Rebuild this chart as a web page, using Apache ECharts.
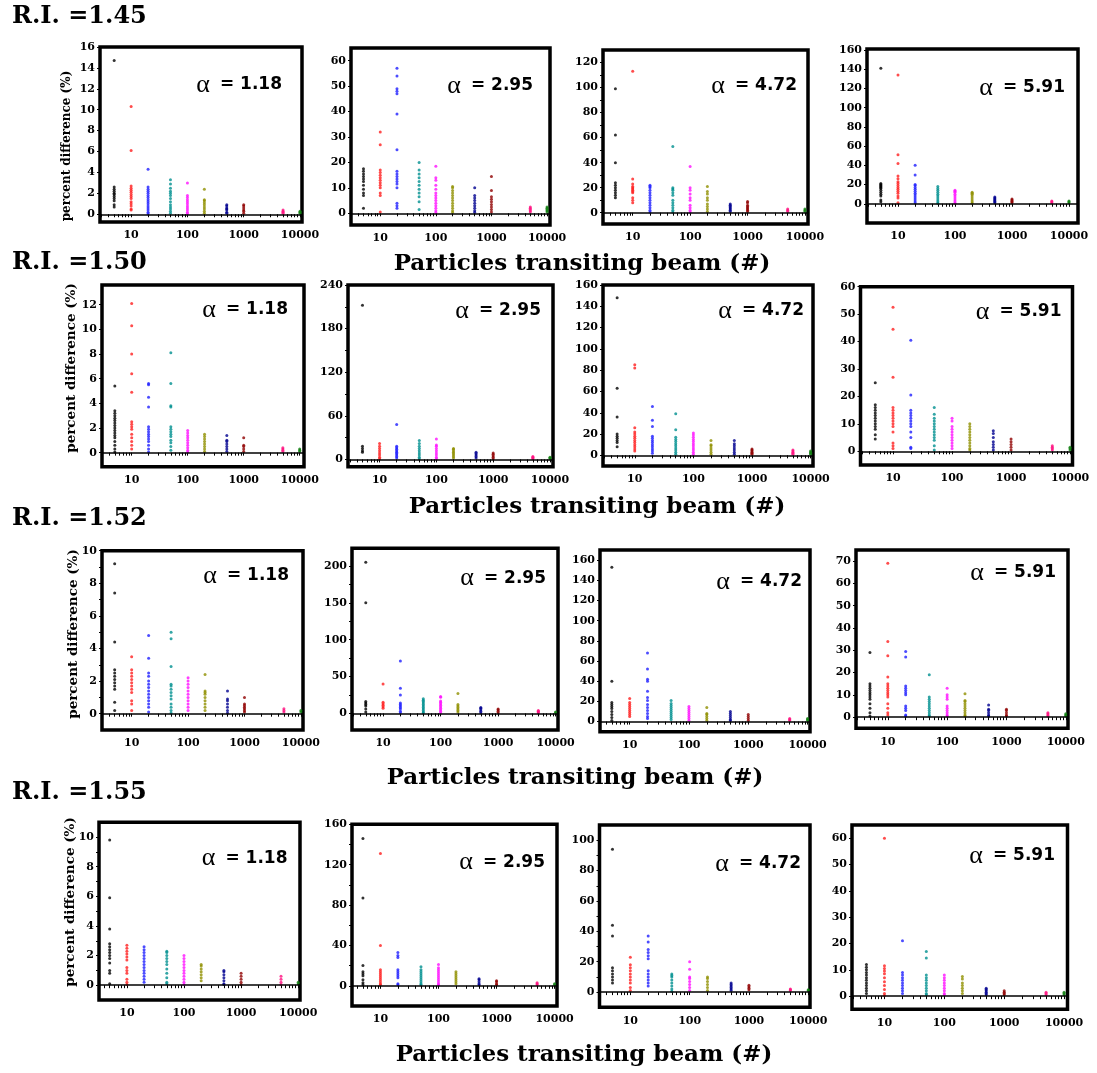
<!DOCTYPE html>
<html><head><meta charset="utf-8">
<script src="https://cdn.jsdelivr.net/npm/echarts@6/dist/echarts.min.js"></script>
<style>html,body{margin:0;padding:0;background:#fff}#c{width:1097px;height:1073px}</style>
</head><body><div id="c"></div>
<script>
// ---------- data ----------
const xCats = [5, 10, 20, 50, 100, 200, 500, 1000, 5000, 10000];
const riLabels = ['R.I. =1.45', 'R.I. =1.50', 'R.I. =1.52', 'R.I. =1.55'];
const alphaLabels = ['1.18', '2.95', '4.72', '5.91'];
const xTitle = 'Particles transiting beam (#)';
const yTitle = 'percent difference (%)';
const xLabelValues = [10, 100, 1000, 10000];
const xTickValues = [3,4,5,6,7,8,9,10,20,30,40,50,60,70,80,90,100,200,300,400,500,600,700,800,900,1000,2000,3000,4000,5000,6000,7000,8000,9000,10000];

// each panel: one list of y-values per x category (xCats order)
const p145_118 = [
  [14.7,2.6,2.4,2.2,2.0,1.9,1.7,1.5,1.3,0.9,0.7],
  [10.3,6.1,2.7,2.5,2.3,2.1,1.9,1.7,1.5,1.2,1.0,0.8,0.5,0.4],
  [4.3,2.6,2.4,2.2,2.0,1.8,1.6,1.4,1.2,1.0,0.8,0.6,0.4,0.2,0.05],
  [3.3,2.9,2.5,2.2,2.0,1.8,1.5,1.2,0.9,0.7,0.5,0.3,0.1],
  [3.0,1.8,1.6,1.4,1.2,1.0,0.8,0.6,0.4,0.2,0.05],
  [2.4,1.4,1.3,1.1,0.9,0.7,0.5,0.3,0.1],
  [0.9,0.8,0.6,0.5,0.4,0.2,0.1],
  [0.9,0.8,0.6,0.4,0.3,0.1],
  [0.4,0.3,0.2,0.1],
  [0.3,0.2,0.1]
];
const p145_295 = [
  [17.5,16.5,15.5,14.5,13.5,12.5,11,9.5,8,7,2],
  [32,27,17,16,15,14,13,12,11,10,8,7,0.5],
  [57,54,49,48,47,39,25,16.5,15.5,14.5,13.5,12.5,11.5,10,4,3,2],
  [20,17,15.5,14,12.5,11,9.5,8,6.5,4.5,1.5],
  [18.5,14,13,11,9.5,8,7,6,5,4,3,2,1,0.3],
  [10.5,10,9,8,7,6,5,4,3,2,1,0.3],
  [10,7,6,5,4,3,2,1,0.3],
  [14.5,9,6.5,5.5,4.5,3.5,2.5,1.5,0.5],
  [2.5,2,1.5,1,0.5],
  [2.5,2,1.5,1,0.5]
];
const p145_472 = [
  [99,62,40,24,22,20,18,16,14,12],
  [113,27,23,21,20,19,18,17,16,12,10,8],
  [22,21,20,18,16,14,12,10,8,6,4,2,0.5],
  [53,20,19,18,16,14,10,8,6,4,2,0.5],
  [37,20,18,15,12,10,6,4,2,0.5],
  [21,17,15,12,10,7,5,3,1],
  [7,6,5,4,3,2,1],
  [9,8,6,5,4,3,2,1],
  [3,2,1],
  [3,2,1]
];
const p145_591 = [
  [141,21,20,19,18,17,16,14,12,10,8,4,2],
  [134,51,42,29,26,23,21,19,17,15,13,11,8,6,1],
  [40,30,20,19,17,15,13,11,9,7,5,3,1],
  [18,16,14,12,10,8,6,4,2,0.5],
  [14,13,12,10,8,6,4,2,0.5],
  [12,11,10,8,6,4,2,0.5],
  [7,6,5,4,3,2,1],
  [5,4,3,2,1],
  [3,2,1],
  [3,2,1]
];
const p150_118 = [
  [5.4,3.4,3.2,3.0,2.8,2.6,2.4,2.2,2.0,1.8,1.6,1.4,1.2,0.9,0.6,0.3,0.05],
  [12.1,10.3,8.0,6.4,4.9,2.5,2.3,2.1,1.9,1.5,1.2,0.9,0.6,0.3],
  [5.6,5.5,4.5,3.7,2.1,1.9,1.7,1.5,1.3,1.1,0.9,0.6,0.3,0.05],
  [8.1,5.6,3.8,3.7,2.1,1.9,1.7,1.5,1.3,1.0,0.8,0.5,0.2],
  [1.8,1.6,1.4,1.2,1.0,0.8,0.6,0.4,0.2,0.05],
  [1.5,1.3,1.1,0.9,0.7,0.5,0.3,0.1],
  [1.4,1.0,0.9,0.7,0.5,0.3,0.1],
  [1.2,0.6,0.5,0.3,0.1],
  [0.4,0.3,0.2,0.1],
  [0.3,0.2,0.1]
];
const p150_295 = [
  [212,18,15,12,10],
  [22,18,15,12,9,6,3,1],
  [48,18,16,14,12,10,8,6,4,2],
  [26,22,18,15,12,9,6,3,1],
  [28,20,18,15,12,9,6,3,1],
  [15,14,12,10,8,6,4,2],
  [10,8,6,4,2],
  [9,7,5,3,1],
  [4,3,2,1],
  [3,2,1]
];
const p150_472 = [
  [148,63,36,20,18,16,14,12,8],
  [85,82,26,22,20,18,16,14,12,10,8,6,4],
  [46,33,27,18,16,14,12,10,8,6,4,2],
  [39,24,17,15,13,11,9,7,5,3,1],
  [21,19,17,15,13,11,9,7,5,3,1],
  [14,10,9,7,5,3,1],
  [14,11,9,7,5,3,1],
  [6,5,4,3,2,1],
  [5,4,3,2,1],
  [4,3,2,1]
];
const p150_591 = [
  [25,17,16,15,14,13,12,11,10,9,8,6,4.5],
  [52.5,44.5,27,16,15,14,13,12,11,10,9,7,3,2,1],
  [40.5,20.5,15,14,13,12,11,10,9,7,5,1.5,1],
  [16,13.5,12,11,10,9,8,7,6,5,4,2,0.5],
  [12,11,9,8,7,6,5,4,3,2,1],
  [10,9,8,7,6,5,4,3,2,1,0.5],
  [7.5,6.5,5,3.5,2.5,1.5,0.5],
  [4.5,3.5,2.5,1.5,0.5],
  [2,1.5,1,0.5],
  [1.5,1,0.5]
];
const p152_118 = [
  [9.2,7.4,4.4,2.7,2.5,2.3,2.1,1.9,1.7,1.5,0.7,0.2],
  [3.5,2.7,2.5,2.3,2.1,1.9,1.7,1.5,1.3,0.8,0.6,0.2],
  [4.8,3.4,2.5,2.3,2.0,1.8,1.6,1.4,1.2,1.0,0.8,0.6,0.4,0.1],
  [5.0,4.6,2.9,1.8,1.7,1.5,1.3,1.1,0.9,0.6,0.4,0.2,0.05],
  [2.2,2.0,1.8,1.6,1.4,1.2,1.0,0.8,0.6,0.4,0.2],
  [2.4,1.4,1.3,1.2,1.0,0.8,0.6,0.4,0.2],
  [1.4,0.9,0.8,0.6,0.4,0.2,0.05],
  [1.0,0.6,0.5,0.4,0.3,0.2,0.1],
  [0.3,0.2,0.1],
  [0.2,0.1]
];
const p152_295 = [
  [205,150,16,14,12,10,6,2],
  [40,15,13,11,9,7],
  [71,34,25,14,12,10,8,6,3,1],
  [20,18,16,14,12,10,8,6,4,2,1],
  [23,22,17,15,13,11,9,7,5,3,1],
  [27,12,10,8,6,4,2],
  [8,7,5,3,1],
  [6,5,3,1],
  [4,3,2,1],
  [2,1]
];
const p152_472 = [
  [153,40,19,17,15,13,10,7,4,1],
  [23,19,17,15,13,11,9,7,5],
  [68,52,42,40,30,24,21,17,14,11,8,5,3],
  [21,18,16,14,12,10,8,6,4,2],
  [15,13,11,9,7,5,3,1],
  [14,8,7,5,3,1],
  [10,8,6,4,2,1],
  [7,5,3,1],
  [3,2,1],
  [3,2,1]
];
const p152_591 = [
  [29,15,14,13,12,11,10,9,8,6,4,2,0.5],
  [69,34,27.5,18,15,14,13,12,11,10,9,6,4,2,1],
  [29.5,27,14,13,12,11,10,5,4,3,1,0.5],
  [19,9,8,7,6,5,4,3,2,1,0.5],
  [13,10,9,8,5,4,3,2,1,0.5],
  [10.5,7.5,7,6,5,4,3,2,1,0.5],
  [5.5,3.5,3,2,1,0.5],
  [3.5,3,2,1,0.5],
  [2,1.5,1,0.5],
  [1.5,1,0.5]
];
const p155_118 = [
  [9.8,5.9,3.8,2.8,2.6,2.4,2.2,2.0,1.8,1.5,1.0,0.8,0.1],
  [2.7,2.5,2.3,2.1,1.9,1.7,1.2,1.0,0.8,0.4,0.2,0.05],
  [2.6,2.4,2.2,2.0,1.8,1.6,1.4,1.2,1.0,0.8,0.6,0.4,0.2],
  [2.3,2.2,2.0,1.8,1.6,1.4,1.1,0.8,0.5,0.2,0.1],
  [2.0,1.8,1.6,1.4,1.2,1.0,0.8,0.6,0.4,0.2,0.05],
  [1.4,1.3,1.1,0.9,0.7,0.5,0.3],
  [1.0,0.9,0.7,0.5,0.3,0.1,0.05],
  [0.8,0.6,0.4,0.2,0.05],
  [0.6,0.4,0.2,0.05],
  [0.2,0.1]
];
const p155_295 = [
  [146,87,20,14,12,10,6,3,1],
  [131,40,16,14,12,10,8,6,4,2,1],
  [33,30,28,16,14,12,10,8,2,1],
  [19,16,14,12,10,8,6,4,2,1],
  [21,18,16,14,12,10,8,6,4,2,1],
  [14,12,10,8,6,4,2],
  [7,6,4,2,1],
  [5,4,2,1],
  [3,2,1],
  [2,1]
];
const p155_472 = [
  [94,44,37,16,14,12,10,8,6],
  [23,18,16,14,12,10,8,6,3,1],
  [37,33,28,26,24,22,14,12,10,8,6,4],
  [12,11,10,8,6,4,2,0.5],
  [20,15,10,9,7,5,3,1],
  [10,9,7,5,3,1],
  [6,5,4,3,2,1],
  [4.5,3.5,2.5,1.5],
  [2,1.5,1],
  [1.5,1]
];
const p155_591 = [
  [12,11,10,9,8,7,6,5,4,3,2,1],
  [60,11.5,10.5,9.5,8.5,7,5.5,4,2.5,1,0.2],
  [21,9,8,7,6,5,4,3,2,1],
  [17,14.5,8,7,6,5,4,3,2,1,0.5],
  [8,7,6,5,4,3,2,1,0.5],
  [7.5,6.5,5,4,3,2,1],
  [3,2.5,2,1.5,1,0.5],
  [2,1.5,1,0.5],
  [1.5,1,0.5],
  [1.5,1,0.5]
];
const panelData = [p145_118,p145_295,p145_472,p145_591,p150_118,p150_295,p150_472,p150_591,
                   p152_118,p152_295,p152_472,p152_591,p155_118,p155_295,p155_472,p155_591];

// y-axis tick labels per panel
const yLabels = [
  [0,2,4,6,8,10,12,14,16],[0,10,20,30,40,50,60],[0,20,40,60,80,100,120],[0,20,40,60,80,100,120,140,160],
  [0,2,4,6,8,10,12],[0,60,120,180,240],[0,20,40,60,80,100,120,140,160],[0,10,20,30,40,50,60],
  [0,2,4,6,8,10],[0,50,100,150,200],[0,20,40,60,80,100,120,140,160],[0,10,20,30,40,50,60,70],
  [0,2,4,6,8,10],[0,40,80,120,160],[0,20,40,60,80,100],[0,10,20,30,40,50,60]
];
const yMinorTicks = [
  [],[],[10,30,50,70,90,110],[],
  [],[30,90,150,210],[],[],
  [1,3,5,7,9],[25,75,125,175],[],[],
  [1,3,5,7,9],[20,60,100,140],[10,30,50,70,90],[]
];
const yExtents = [[-0.74,16],[-4.6,65],[-9,130],[-20,161],[-1.14,13.6],[-10,240],[-10,160],[-5,60],
                  [-1,10],[-22.5,224],[-10,170],[-5,75],[-1,11],[-20,160],[-10,110],[-5,65]];
const xMins = [2.8,2.98,3.04,2.86,2.95,2.78,2.87,2.81,2.98,2.88,3.16,2.91,3.25,3.24,3.02,2.87];
const xMaxs = [10850,11300,11300,14400,11930,11300,11000,11000,10900,11000,11000,10900,10750,11000,10700,11400];

// ---------- layout & style ----------
const colors = ['#000000','#ff1f1f','#1f1fff','#009090','#ff10ff','#909000','#000090','#900000','#ff1080','#108010'];
const boxes = [
  [100,47,202,175],[351,48,199,177],[603,50,205,174],[867,49,211,174],
  [102,285,202,181.7],[348,285,205,181.7],[603,285,210,181],[860.5,286.7,212,178.3],
  [102,550.7,201,179.3],[352,548.3,206,181.7],[600,550,210,181.7],[856,550,212,178.3],
  [99,822.3,201,177.7],[352,824.3,205,181.7],[599.5,825,210.5,182.3],[852,825,215.5,184.3]
];
const alphaOff = [[20,38],[17,38],[11,36],[13,39],[16,25],[12,26],[9,26],[11,25],
                  [14,25],[12,30],[8,32],[12,23],[12.5,36],[12,38],[9,39],[12.5,31]];
const riPos = [[12,17],[12,263],[12,519],[12,793]];
const xTitlePos = [[582,264],[597,507],[575,778],[584,1055]];
const yTitlePos = [[67,146],[71,368],[73,634],[70,902]];
const yTitleSize = [12, 13.5, 13.5, 13.5];

const serif = 'DejaVu Serif';
const grids = [], xAxes = [], yAxes = [], series = [], graphics = [];

for (let i = 0; i < 16; i++) {
  const b = boxes[i];
  grids.push({left: b[0], top: b[1], width: b[2], height: b[3], show: true,
              borderColor: '#000', borderWidth: 3.5, backgroundColor: '#fff', containLabel: false});
  xAxes.push({
    type: 'log', logBase: 10, gridIndex: i, min: xMins[i], max: xMaxs[i], offset: 1,
    axisLine: {show: false},
    axisTick: {show: true, length: 3, customValues: xTickValues, lineStyle: {color: '#000', width: 1}},
    minorTick: {show: false},
    axisLabel: {customValues: xLabelValues, color: '#000', fontFamily: serif, fontWeight: 'bold', fontSize: 11,
                margin: 7, formatter: v => String(Math.round(v))},
    splitLine: {show: false}
  });
  yAxes.push({
    type: 'value', gridIndex: i, min: yExtents[i][0], max: yExtents[i][1],
    axisLine: {show: false},
    axisTick: {show: true, length: 3, customValues: yLabels[i].concat(yMinorTicks[i]), lineStyle: {color: '#000', width: 1}},
    axisLabel: {customValues: yLabels[i], color: '#000', fontFamily: serif, fontWeight: 'bold', fontSize: 11, margin: 5},
    splitLine: {show: false}
  });
  const items = [];
  panelData[i].forEach((col, k) => {
    col.forEach(v => items.push({value: [xCats[k], v], itemStyle: {color: colors[k]}}));
  });
  series.push({
    type: 'scatter', xAxisIndex: i, yAxisIndex: i, symbol: 'circle', symbolSize: 3,
    data: items, silent: true, animation: false, z: 3,
    markLine: {silent: true, symbol: ['none','none'], animation: false, label: {show: false},
               lineStyle: {color: '#000', width: 1.5, type: 'solid'}, data: [{yAxis: 0}]}
  });
  graphics.push({
    type: 'text', x: b[0] + b[2] - alphaOff[i][0], y: b[1] + alphaOff[i][1], z: 10,
    style: {
      text: '{a|α}{b|= ' + alphaLabels[i % 4] + '}',
      align: 'right', verticalAlign: 'middle',
      rich: {
        a: {fontFamily: 'Liberation Serif', fontSize: 26, fill: '#000', padding: [0, 10, 0, 0]},
        b: {fontFamily: 'DejaVu Sans', fontWeight: 'bold', fontSize: 17, fill: '#000'}
      }
    }
  });
}
for (let r = 0; r < 4; r++) {
  graphics.push({type: 'text', x: riPos[r][0], y: riPos[r][1],
    style: {text: riLabels[r], font: 'bold 24px "' + serif + '"', fill: '#000', align: 'left', verticalAlign: 'middle'}});
  graphics.push({type: 'text', x: xTitlePos[r][0], y: xTitlePos[r][1],
    style: {text: xTitle, font: 'bold 23px "' + serif + '"', fill: '#000', align: 'center', verticalAlign: 'middle'}});
  graphics.push({type: 'text', x: yTitlePos[r][0], y: yTitlePos[r][1], rotation: Math.PI / 2,
    style: {text: yTitle, font: 'bold ' + yTitleSize[r] + 'px "' + serif + '"', fill: '#000', align: 'center', verticalAlign: 'middle'}});
}

const chart = echarts.init(document.getElementById('c'), null, {renderer: 'canvas'});
chart.setOption({
  backgroundColor: '#fff', animation: false,
  grid: grids, xAxis: xAxes, yAxis: yAxes, series: series, graphic: graphics
});
</script></body></html>
